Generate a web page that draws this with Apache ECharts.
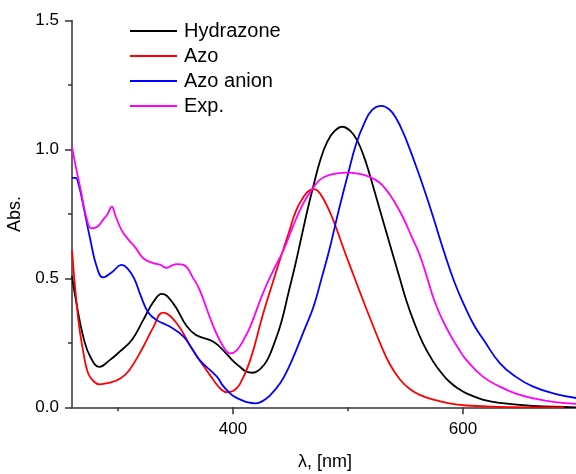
<!DOCTYPE html>
<html>
<head>
<meta charset="utf-8">
<script src="https://cdn.jsdelivr.net/npm/echarts@6/dist/echarts.min.js"></script>
<style>html,body{margin:0;padding:0;background:#fff;}#c{width:576px;height:474px;}</style>
</head>
<body>
<div id="c"></div>
<script>
const seriesNames = ['Hydrazone', 'Azo', 'Azo anion', 'Exp.'];
const xMajorTicks = [400, 600];
const xMinorTicks = [300, 500, 700];

const hydrazone = [[260,0.51],[264,0.40],[270,0.27],[276,0.195],[284,0.157],[292,0.18],[302,0.218],[312,0.261],[322,0.339],[331,0.41],[338,0.44],[348,0.403],[360,0.313],[368,0.28],[383,0.254],[394,0.209],[400,0.18],[406,0.157],[411,0.14],[417,0.134],[424,0.15],[430,0.185],[436,0.25],[442,0.33],[448,0.44],[454,0.55],[460,0.67],[465,0.77],[470,0.86],[476,0.96],[482,1.03],[488,1.07],[495,1.088],[502,1.072],[508,1.035],[514,0.97],[519,0.9],[525,0.808],[531,0.715],[537,0.623],[545,0.50],[551,0.41],[557,0.335],[565,0.25],[574,0.178],[581,0.135],[588,0.1],[596,0.072],[603,0.054],[617,0.03],[632,0.017],[661,0.005],[700,0.0]];

const azo = [[260,0.61],[265.5,0.34],[270,0.21],[274,0.132],[279,0.1],[284,0.089],[292,0.095],[302,0.112],[310,0.145],[322,0.235],[331,0.313],[339,0.367],[351,0.326],[365,0.222],[383,0.106],[390,0.068],[395,0.058],[400,0.063],[406,0.09],[415,0.183],[426,0.36],[435,0.49],[441,0.575],[448,0.67],[455,0.765],[462,0.82],[466,0.84],[470,0.846],[474,0.838],[479,0.805],[484,0.76],[489,0.705],[496,0.617],[505,0.51],[513,0.416],[521,0.325],[528,0.248],[536,0.17],[545,0.109],[554,0.07],[564,0.045],[574,0.03],[588,0.015],[603,0.007],[630,0.002],[688,0.0]];

const azoAnion = [[260,0.89],[263,0.89],[266,0.86],[270,0.778],[276,0.649],[281.5,0.545],[287,0.504],[295,0.525],[303,0.552],[308,0.54],[314,0.5],[320,0.43],[326,0.37],[333,0.34],[345,0.313],[357,0.274],[364,0.23],[371,0.183],[386,0.119],[391,0.085],[397,0.056],[401,0.042],[406,0.031],[412,0.02],[420,0.0155],[426,0.025],[432,0.045],[441,0.093],[448,0.15],[455,0.222],[462,0.3],[470,0.39],[477,0.5],[484,0.615],[492,0.765],[500,0.905],[507,1.02],[514,1.10],[521,1.153],[529,1.169],[536,1.155],[542,1.12],[548,1.065],[553,1.01],[560,0.925],[567,0.835],[574,0.739],[583,0.61],[593,0.48],[603,0.377],[610,0.315],[618,0.261],[632,0.171],[646,0.118],[661,0.08],[680,0.052],[700,0.035]];

const expData = [[260,1.011],[263,0.94],[267,0.856],[273,0.727],[277,0.694],[282,0.70],[287,0.727],[291,0.75],[294.5,0.778],[298,0.74],[303,0.688],[308,0.656],[315,0.62],[322,0.578],[330,0.56],[337,0.552],[342,0.541],[347,0.55],[351,0.555],[357,0.552],[365.5,0.50],[371,0.455],[383,0.313],[391.6,0.235],[397.4,0.209],[403,0.22],[409,0.26],[415,0.313],[426,0.442],[435,0.53],[444,0.61],[452,0.70],[461,0.79],[468,0.84],[476,0.884],[486,0.903],[498,0.91],[510,0.905],[519,0.893],[527,0.873],[533,0.845],[540,0.80],[548,0.735],[555,0.665],[562,0.595],[569,0.50],[575,0.415],[581,0.35],[589,0.28],[596,0.228],[603,0.183],[617,0.12],[632,0.08],[646,0.053],[661,0.035],[680,0.02],[700,0.013]];

const colors = ['#000000', '#ff0000', '#0000ff', '#ff00ff'];
const allData = [hydrazone, azo, azoAnion, expData];
const FONT = 'Liberation Sans, Arial, Helvetica, sans-serif';

const chart = echarts.init(document.getElementById('c'), null, {renderer: 'canvas'});
chart.setOption({
  animation: false,
  backgroundColor: '#ffffff',
  textStyle: {fontFamily: FONT},
  grid: {left: 72, top: 20.5, width: 506, bottom: 66.7, containLabel: false, outerBoundsMode: 'none'},
  legend: {
    orient: 'vertical', left: 130, top: 21, padding: 0,
    icon: 'rect', itemWidth: 47, itemHeight: 2, itemGap: 5,
    data: seriesNames,
    textStyle: {fontSize: 20, lineHeight: 20, color: '#000', fontFamily: FONT, padding: [0, 0, 0, 2]}
  },
  xAxis: [{
    type: 'value', min: 260, max: 700, position: 'bottom',
    name: 'λ, [nm]', nameLocation: 'middle', nameGap: 46,
    nameTextStyle: {fontSize: 18, color: '#000', fontFamily: FONT},
    axisLine: {show: true, onZero: false, lineStyle: {color: '#333', width: 1.5}},
    axisTick: {show: true, inside: false, length: 7, customValues: xMajorTicks, lineStyle: {color: '#333', width: 1.5}},
    axisLabel: {show: true, customValues: xMajorTicks, margin: 14, fontSize: 17, color: '#000', fontFamily: FONT},
    splitLine: {show: false}
  }, {
    type: 'value', min: 260, max: 700, position: 'bottom',
    axisLine: {show: false},
    axisTick: {show: true, inside: false, length: 4, customValues: xMinorTicks, lineStyle: {color: '#333', width: 1.5}},
    axisLabel: {show: false},
    splitLine: {show: false}
  }],
  yAxis: {
    type: 'value', min: 0, max: 1.5, interval: 0.5,
    name: 'Abs.', nameLocation: 'middle', nameGap: 43, nameRotate: 90,
    nameTextStyle: {fontSize: 18, color: '#000', fontFamily: FONT},
    axisLine: {show: true, onZero: false, lineStyle: {color: '#333', width: 1.5}},
    axisTick: {show: true, inside: false, length: 7, lineStyle: {color: '#333', width: 1.5}},
    minorTick: {show: true, splitNumber: 2, length: 4, lineStyle: {color: '#333', width: 1.5}},
    axisLabel: {margin: 13, fontSize: 17, color: '#000', fontFamily: FONT, formatter: v => v.toFixed(1)},
    splitLine: {show: false},
    minorSplitLine: {show: false}
  },
  series: seriesNames.map((n, i) => ({
    name: n, type: 'line', xAxisIndex: 0, data: allData[i],
    symbol: 'none', smooth: 0.45,
    lineStyle: {color: colors[i], width: 1.8},
    itemStyle: {color: colors[i]},
    z: 2 + i
  }))
});
</script>
</body>
</html>
